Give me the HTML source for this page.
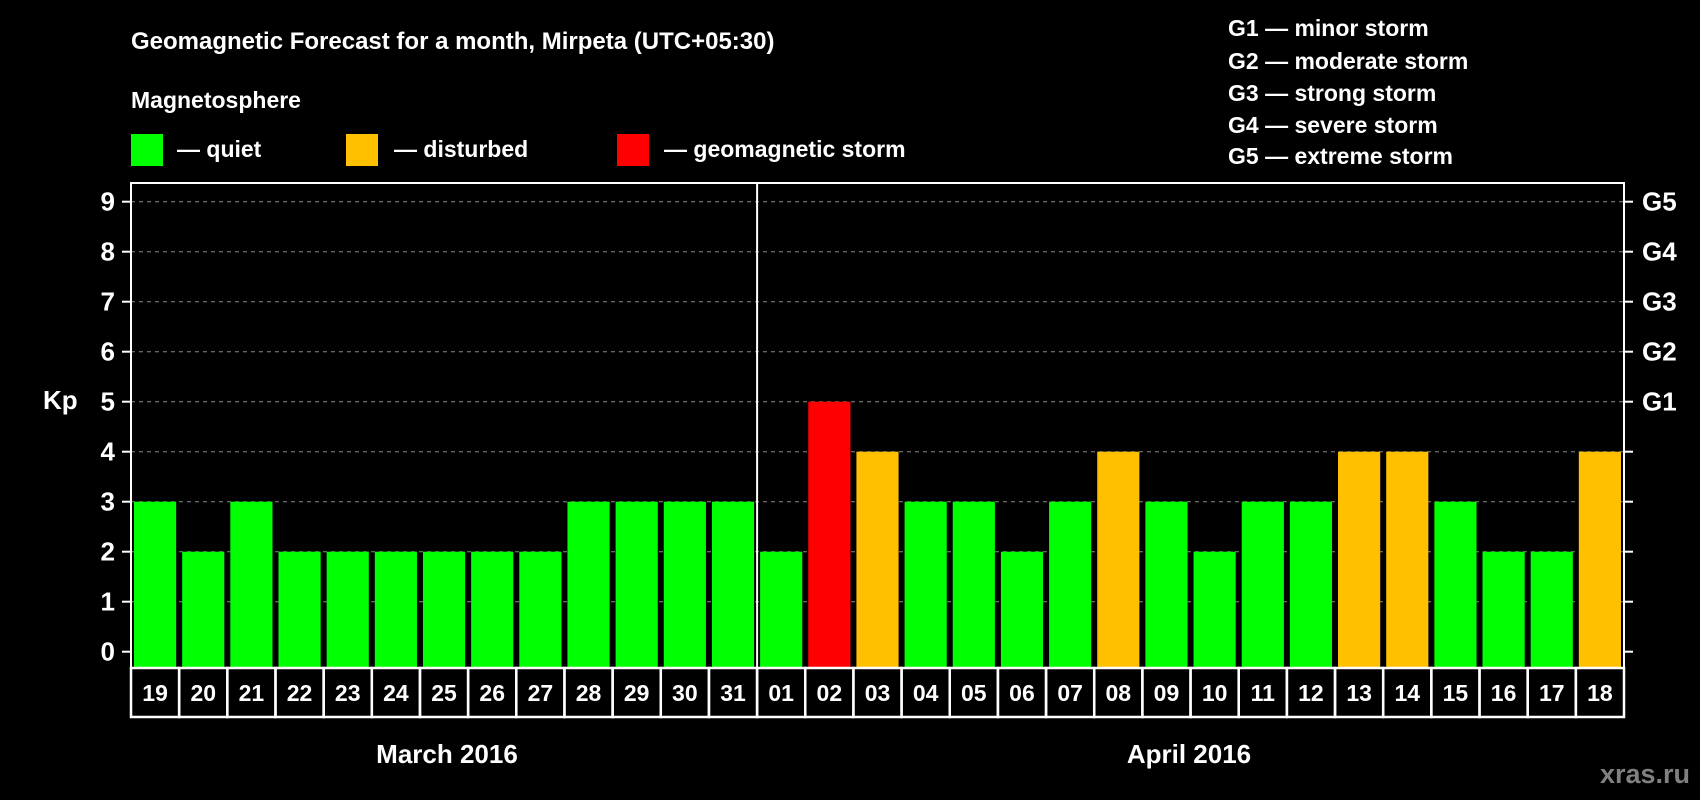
<!DOCTYPE html>
<html><head><meta charset="utf-8"><style>
body{margin:0;background:#000;}
svg{display:block;font-family:"Liberation Sans",Arial,sans-serif;font-weight:bold;}
</style></head><body>
<svg id="c" width="1700" height="800" viewBox="0 0 1700 800">
<rect width="1700" height="800" fill="#000"/>
<text x="131" y="49" fill="#fff" font-size="24">Geomagnetic Forecast for a month, Mirpeta (UTC+05:30)</text>
<text x="131" y="108" fill="#fff" font-size="23">Magnetosphere</text>
<g><rect x="131" y="134" width="32" height="32" fill="#00ff00"/><text x="177" y="157" fill="#fff" font-size="23">— quiet</text></g>
<g><rect x="346" y="134" width="32" height="32" fill="#ffc000"/><text x="394" y="157" fill="#fff" font-size="23">— disturbed</text></g>
<g><rect x="617" y="134" width="32" height="32" fill="#ff0000"/><text x="664" y="157" fill="#fff" font-size="23">— geomagnetic storm</text></g>
<g fill="#fff" font-size="23">
<text x="1228" y="36">G1 — minor storm</text>
<text x="1228" y="69">G2 — moderate storm</text>
<text x="1228" y="101">G3 — strong storm</text>
<text x="1228" y="133">G4 — severe storm</text>
<text x="1228" y="164">G5 — extreme storm</text>
</g>
<text x="43" y="409" fill="#fff" font-size="26">Kp</text>
<text x="447" y="763" fill="#fff" font-size="26" text-anchor="middle">March 2016</text>
<text x="1189" y="763" fill="#fff" font-size="26" text-anchor="middle">April 2016</text>
<text x="1690" y="783" fill="#808080" font-size="27" text-anchor="end">xras.ru</text>
<g id="plot"></g>
</svg>
<script>
const days = ["19","20","21","22","23","24","25","26","27","28","29","30","31","01","02","03","04","05","06","07","08","09","10","11","12","13","14","15","16","17","18"];
const kpValues = [3,2,3,2,2,2,2,2,2,3,3,3,3,2,5,4,3,3,2,3,4,3,2,3,3,4,4,3,2,2,4];
const yTicks = [0,1,2,3,4,5,6,7,8,9];
const gLabels = ["","","","","","G1","G2","G3","G4","G5"];
const marchCount = 13;

const NS="http://www.w3.org/2000/svg";
const g=document.getElementById('plot');
const L=131,R=1624,T=183,B=668;
const slot=(R-L)/days.length;
const y=v=>651.7-v*50;
const x=i=>L+i*slot;
function mk(tag,attrs,parent){const e=document.createElementNS(NS,tag);for(const k in attrs)e.setAttribute(k,attrs[k]);(parent||g).appendChild(e);return e;}
yTicks.forEach((v,i)=>{
  if(v>0){const gl=mk('line',{x1:L,x2:R,y1:y(v),y2:y(v),stroke:'#888','stroke-dasharray':'4,4','stroke-width':1});
  
  }
  const t1=mk('line',{x1:L-9,x2:L,y1:y(v),y2:y(v),stroke:'#fff','stroke-width':2});
  
  
  const t2=mk('line',{x1:R,x2:R+9,y1:y(v),y2:y(v),stroke:'#fff','stroke-width':2});
  
  
  const lt=mk('text',{x:115,y:y(v)+9,fill:'#fff','font-size':26,'text-anchor':'end'});lt.textContent=v;
  
  
  if(gLabels[i]){const gt=mk('text',{x:1642,y:y(v)+9,fill:'#fff','font-size':26});gt.textContent=gLabels[i];
  
  }
});
kpValues.forEach((v,i)=>{
  const col=v>=5?'#ff0000':(v>=4?'#ffc000':'#00ff00');
  const b=mk('rect',{x:x(i)+3,y:y(v),width:slot-6,height:B-y(v),fill:col});
  
  
  const c=mk('rect',{x:x(i),y:B,width:slot,height:49,fill:'none',stroke:'#fff','stroke-width':2.5});
  
  
  const t=mk('text',{x:x(i)+slot/2,y:B+33,fill:'#fff','font-size':23,'text-anchor':'middle'});t.textContent=days[i];
  
  
});
const fr=mk('rect',{x:L,y:T,width:R-L,height:B-T,fill:'none',stroke:'#fff','stroke-width':2});


const ml=mk('line',{x1:x(marchCount),x2:x(marchCount),y1:T,y2:B,stroke:'#fff','stroke-width':2});


</script>
</body></html>
